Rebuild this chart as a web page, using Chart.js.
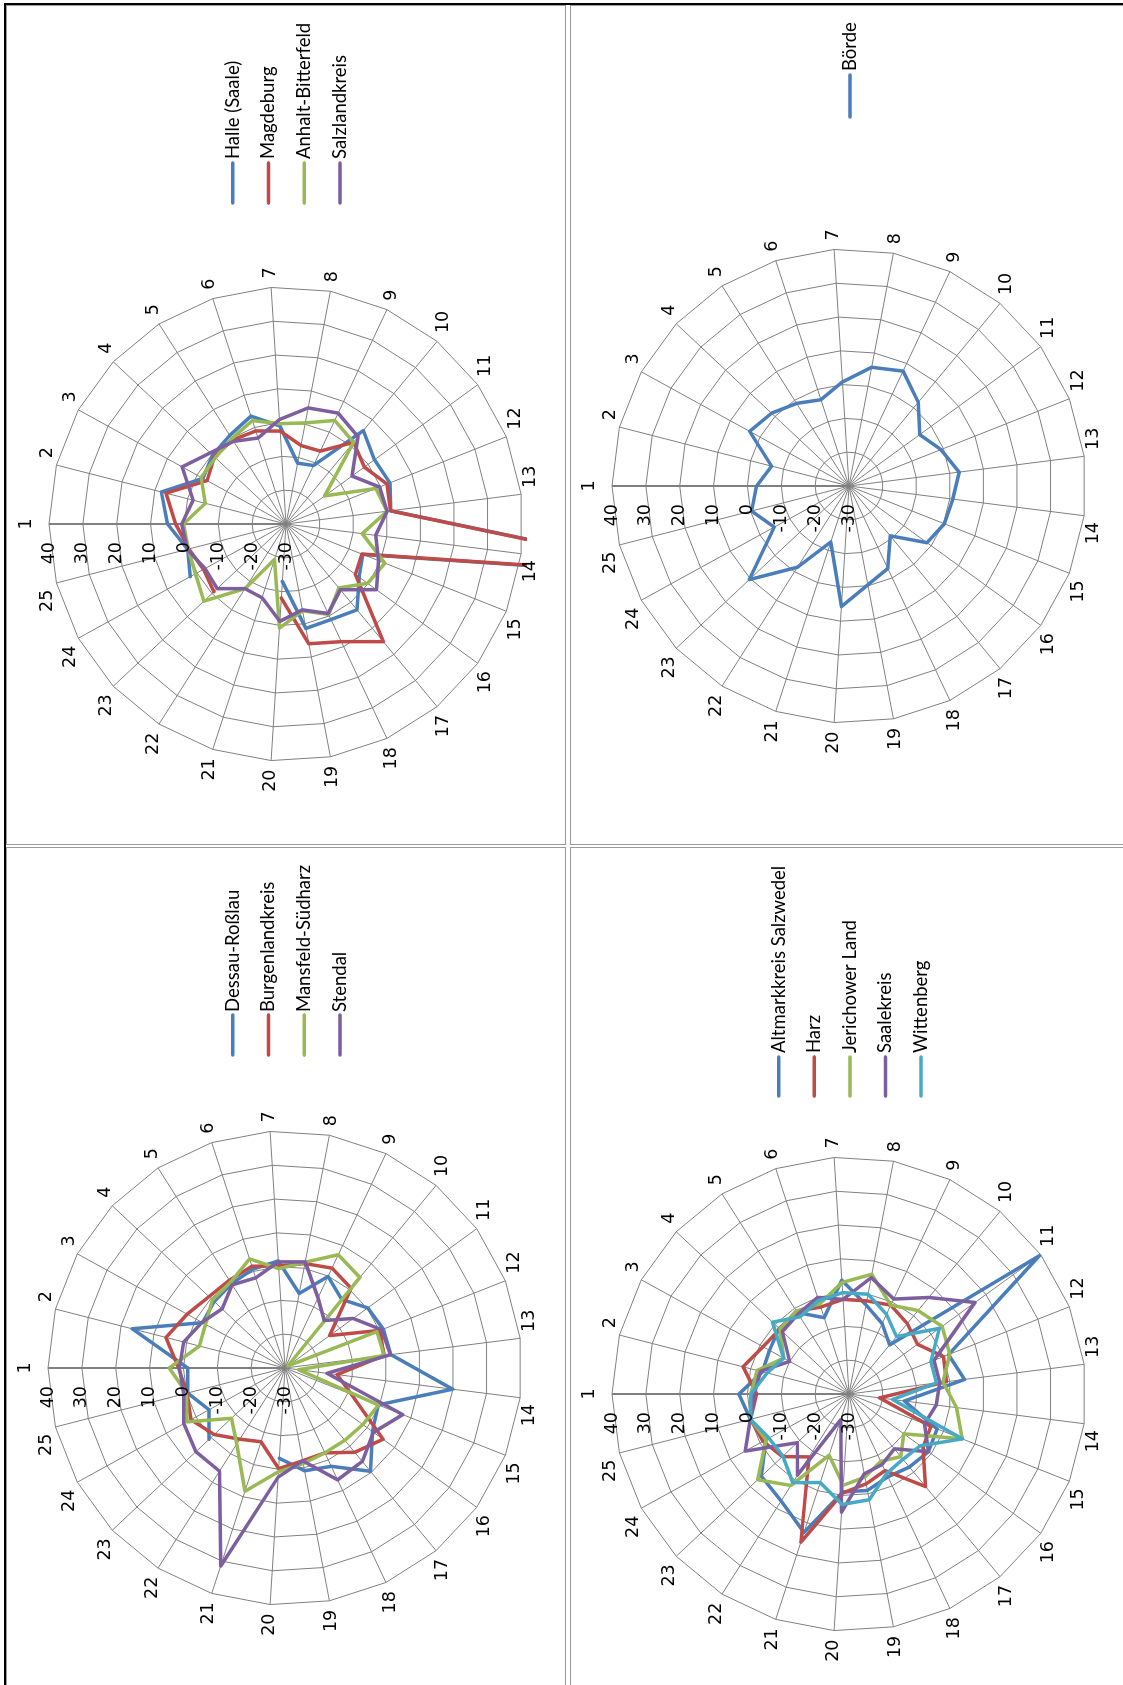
<!DOCTYPE html>
<html>
<head>
<meta charset="utf-8">
<script src="https://cdn.jsdelivr.net/npm/chart.js@4.4.1/dist/chart.umd.min.js"></script>
<style>
  body { margin: 0; width: 1123px; height: 1685px; overflow: hidden; background: #fff; position: relative; }
  .line { position: absolute; background: #000; }
  .cell { position: absolute; border: 1px solid #9a9a9a; box-sizing: border-box; }
  .panel { position: absolute; }
  .panel canvas { position: absolute; transform: rotate(-90deg); }
</style>
</head>
<body>
<div class="cell" style="left:6px;top:5px;width:560px;height:840px"></div>
<div class="cell" style="left:570px;top:5px;width:560px;height:840px"></div>
<div class="cell" style="left:6px;top:847px;width:560px;height:900px"></div>
<div class="cell" style="left:570px;top:847px;width:560px;height:900px"></div>
<div class="line" style="left:4px;top:3px;width:1119px;height:2px"></div>
<div class="line" style="left:4px;top:3px;width:2px;height:1682px"></div>

<div class="panel" style="left:7px;top:6px;width:558px;height:838px"><canvas id="c1"></canvas></div>
<div class="panel" style="left:571px;top:6px;width:550px;height:838px"><canvas id="c2"></canvas></div>
<div class="panel" style="left:7px;top:849px;width:558px;height:838px"><canvas id="c3"></canvas></div>
<div class="panel" style="left:571px;top:849px;width:550px;height:838px"><canvas id="c4"></canvas></div>

<script>
// Kategorien 1..25 und Achsenbeschriftung
const categories = ['1','2','3','4','5','6','7','8','9','10','11','12','13','14','15','16','17','18','19','20','21','22','23','24','25'];
const tickValues = [40, 30, 20, 10, 0, -10, -20, -30];

// Diagramm 1
const halle      = [5, 8, -2, -0.3, 1, 3.5, -1, -11.7, -10.9, 5.8, 2.3, 3, 1.2, 97, -5.6, -3.3, 2.9, 1.2, 1.4, -13, null, null, null, 2.3, 0];
const magdeburg  = [2.6, 6.6, -3.4, -1, -0.6, -1.1, -2.5, -6.4, -6.2, 1.3, -1.4, 2.1, 1.1, 95, -5.9, -4.7, 15.1, 8.4, 6, -8.1, null, null, -0.8, -2.2, -0.4];
const anhalt     = [0.3, -5.4, -1.4, -1.4, -0.1, 2.1, -0.3, 0.4, 3.8, 1.3, -15.9, -1.5, 0.1, -7.3, 1.4, -0.2, -5.5, -0.5, -3.9, 0.8, -19, -7.4, 3.3, 0.5, -0.2];
const salzland   = [0.8, -1.7, 5, 0.7, -1.1, -3.3, 0.9, 4.9, 6.2, 3.4, -5.9, -0.3, 0.1, -3.3, -0.6, 3, -4.8, -0.8, -4.2, -1.2, -7.1, -7.4, -2.1, -2.7, 0.1];

// Diagramm 2
const boerde     = [-2.7, -6.4, 3.5, 1.4, -1.1, -3.2, 0.8, 5.7, 7.5, 2.1, -4.2, -0.8, 2.8, 0.9, 0.3, -1.5, -10.9, -3.1, -0.3, 5.7, -12.6, -1.6, 10.4, -4.8, -0.3];

// Diagramm 3
const dessau     = [-1.3, 16.6, -2.2, -1.3, -0.5, 0.7, 1.7, -7.6, -0.1, -3.7, 0.2, 1.2, 1.5, 19.9, -0.4, 1.9, 9.6, 2.1, 0.9, -3.3, null, null, 0.8, -4.4, -0.3];
const burgenland = [1.4, 6.3, 3, 0.8, 0.7, 1.6, 0.2, 1.4, 2.6, 0.6, -13.7, 0.2, -0.6, -14.5, -8.9, 5.8, 2.3, -2.3, -2.1, -0.2, -7.1, -5.1, -1.3, 1.7, -0.1];
const mansfeld   = [4.2, -3.9, -3.2, -0.6, 0, 3.9, -0.6, 1.8, 7, 4.7, -29, -0.8, -0.5, -26, -0.3, -1.6, -2.3, -2.3, -1.3, 0.7, 8.3, -3.4, -8.3, 3, 0];
const stendal    = [1.2, 0.9, -2, -4.5, -0.9, -2, 1.4, 1.9, -7.1, -11.8, -5.1, 0.7, 1.4, -17.5, 7.4, 2.3, 5.8, 6.5, -2.1, 2.3, 31.5, 6.1, 6.1, 4.1, 0.9];

// Diagramm 4
const altmark    = [2.5, -3.6, -3.2, -1.7, -1.5, -6.3, 3.7, -3.2, -7, -11.2, 39.5, 1.6, 4.4, -13.5, -2, -1, -2, -3, -1, -1, 13, 7.4, 5.5, -2, 0.1];
const harz       = [-2.7, 2.3, -1, -2, -1, -3, -2, -2, -1, -3, -5, 0, -1, -20.9, -4, -3, 5.5, -5, -3, -0.7, 16, -8, -3, -1, 0];
const jerichow   = [-1, -2, -8, -2, -1, -2, 3, 6, -1, 2, 4, 2, -2, 2, 6, -10, -6, -8, -5, -3, -11, 2, 7, -2, 0];
const saalekreis = [-2, -3, -10, -3, -2, 0, -2, 5, 1, 7, 16, -3, -3, -4, -6, -1, -9, -7, -6, 5, -22, -1.6, -9, 5, 0.1];
const wittenberg = [-1, -5, -8, 1, -3, -1, 0, 0, -4, -8, 3, -4, -4, -17, 6, -4, -5, -4, 1.8, 2.7, -2.5, 1, -3.2, -3, 0];

const colors = ['#4A7EBB', '#BE4B48', '#98B954', '#7D5FA0', '#46AAC5'];

// Beschriftungen, Achsenwerte und Legende selbst zeichnen
const radarText = {
  id: 'radarText',
  afterDraw(chart, args, opts) {
    const s = chart.scales.r;
    const ctx = chart.ctx;
    ctx.save();
    ctx.fillStyle = '#000';
    ctx.font = '17.5px "DejaVu Sans", sans-serif';
    ctx.textAlign = 'center';
    ctx.textBaseline = 'middle';
    chart.data.labels.forEach((lab, i) => {
      const th = s.getIndexAngle(i);
      const sn = Math.sin(th), cs = Math.cos(th);
      const p = s.getPointPosition(i, s.drawingArea + 3);
      const w = ctx.measureText(lab).width;
      let x = p.x;
      if (Math.abs(sn) > 0.02) x += (sn > 0 ? 1 : -1) * (6 + w / 2);
      let y = p.y - 6.5 * cs;
      if (i === 0) y -= 13;
      ctx.fillText(lab, x, y);
    });
    ctx.textAlign = 'right';
    tickValues.forEach(v => {
      const p = s.getPointPosition(0, s.getDistanceFromCenterForValue(v));
      ctx.fillText(String(v), p.x - 18, p.y);
    });
    // Legende
    ctx.font = '18.5px Lato';
    ctx.textAlign = 'left';
    ctx.lineCap = 'round';
    ctx.lineWidth = 3.5;
    chart.data.datasets.forEach((ds, i) => {
      const y = opts.v0 + i * opts.step;
      ctx.strokeStyle = ds.borderColor;
      ctx.beginPath();
      ctx.moveTo(opts.u0, y);
      ctx.lineTo(opts.u1, y);
      ctx.stroke();
      ctx.fillText(ds.label, opts.tu, y);
    });
    ctx.restore();
  }
};

function makeChart(id, names, series, pad, legend) {
  const canvas = document.getElementById(id);
  const panel = canvas.parentElement;
  const pw = panel.offsetWidth, ph = panel.offsetHeight;
  canvas.width = ph;
  canvas.height = pw;
  canvas.style.left = ((pw - ph) / 2) + 'px';
  canvas.style.top = ((ph - pw) / 2) + 'px';
  const size = 474;
  new Chart(canvas, {
    type: 'radar',
    data: {
      labels: categories,
      datasets: series.map((d, i) => ({
        label: names[i],
        data: d,
        borderColor: colors[i],
        backgroundColor: colors[i],
        borderWidth: 3.5,
        borderJoinStyle: 'round',
        borderCapStyle: 'round',
        pointRadius: 0,
        fill: false,
        tension: 0,
        spanGaps: false,
        clip: 4,
        order: series.length - i
      }))
    },
    options: {
      responsive: false,
      animation: false,
      events: [],
      layout: {
        padding: { left: pad[0], top: pad[1], right: ph - pad[0] - size, bottom: pw - pad[1] - size }
      },
      plugins: {
        legend: { display: false },
        tooltip: { enabled: false },
        radarText: legend
      },
      scales: {
        r: {
          min: -30,
          max: 40,
          ticks: { stepSize: 10, display: false },
          pointLabels: { display: false },
          grid: { color: '#808080', lineWidth: 1 },
          angleLines: { color: '#808080', lineWidth: c => c.index === 0 ? 2 : 1 }
        }
      }
    },
    plugins: [radarText]
  });
}

makeChart('c1', ['Halle (Saale)', 'Magdeburg', 'Anhalt-Bitterfeld', 'Salzlandkreis'],
  [halle, magdeburg, anhalt, salzland], [83, 42],
  { u0: 641, u1: 681, tu: 685, v0: 225.7, step: 35.8 });
makeChart('c2', ['Börde'], [boerde], [121, 41],
  { u0: 727, u1: 769, tu: 773, v0: 279, step: 35.8 });
makeChart('c3', ['Dessau-Roßlau', 'Burgenlandkreis', 'Mansfeld-Südharz', 'Stendal'],
  [dessau, burgenland, mansfeld, stendal], [82, 41],
  { u0: 632, u1: 672, tu: 675, v0: 225.7, step: 35.8 });
makeChart('c4', ['Altmarkkreis Salzwedel', 'Harz', 'Jerichower Land', 'Saalekreis', 'Wittenberg'],
  [altmark, harz, jerichow, saalekreis, wittenberg], [56, 41],
  { u0: 591, u1: 630, tu: 634, v0: 207.7, step: 35.6 });
</script>
</body>
</html>
